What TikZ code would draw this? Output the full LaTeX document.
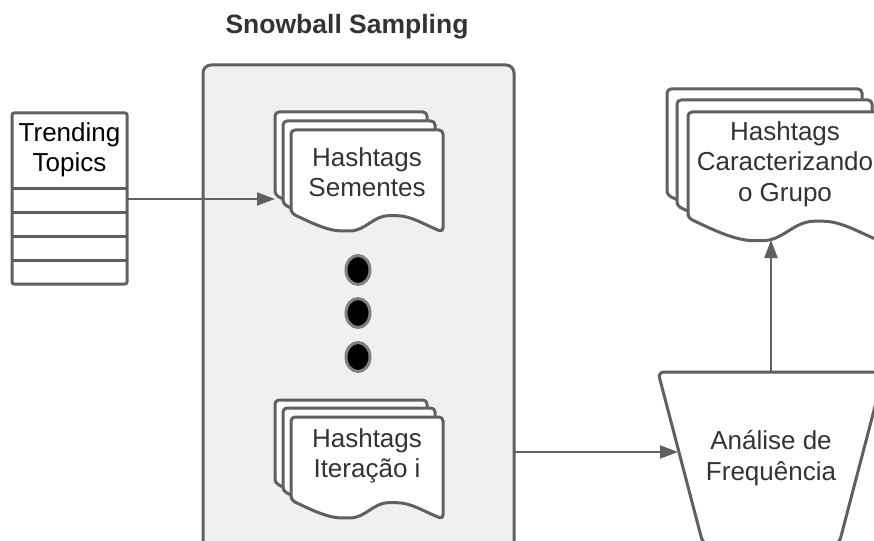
\documentclass[tikz,border=0pt]{standalone}
\usepackage{fontspec}
\setmainfont{Liberation Sans}
\usetikzlibrary{arrows.meta,shapes.geometric}
\definecolor{linegray}{RGB}{96,96,96}
\definecolor{boxfill}{RGB}{240,240,240}
\definecolor{txtgray}{RGB}{51,51,51}
\newcommand\docpath[4]{%
 (#1,#2+0.815*#4) -- (#1,#2) -- (#1+#3,#2) -- (#1+#3,#2+#4)
 .. controls (#1+0.88*#3,#2+0.93*#4) and (#1+0.79*#3,#2+0.84*#4) .. (#1+0.67*#3,#2+0.84*#4)
 .. controls (#1+0.54*#3,#2+0.84*#4) and (#1+0.49*#3,#2+0.99*#4) .. (#1+0.36*#3,#2+0.99*#4)
 .. controls (#1+0.24*#3,#2+0.99*#4) and (#1+0.12*#3,#2+0.90*#4) .. cycle}
\tikzset{
  shape line/.style={draw=linegray, line width=3pt, line join=round, rounded corners=4pt},
  sheet/.style={shape line, fill=white},
  conn/.style={draw=linegray, line width=2pt, -{Triangle[length=18pt,width=13pt]}},
  label/.style={font=\fontsize{26}{30.5}\selectfont, text=txtgray, align=center, inner sep=0pt},
  dotnode/.style={ellipse, draw=linegray!80, line width=3pt, fill=black, minimum width=24pt, minimum height=29pt, inner sep=0pt},
}
\begin{document}
\begin{tikzpicture}[x=1pt,y=-1pt]
\useasboundingbox (0,0) rectangle (874,540);
\clip (0,0) rectangle (874,540);
\fill[white] (0,0) rectangle (874,540);
% title
\node[label, font=\fontsize{26.5}{30}\selectfont\bfseries] (title) at (347,27) {Snowball Sampling};
% container
\draw[shape line, rounded corners=8pt, fill=boxfill] (203,65) rectangle (514,600);
\coordinate (contR) at (514,452);
% trending topics table
\draw[shape line, rounded corners=2pt, fill=white] (12,113) rectangle (127,284);
\foreach \yy in {188,212,236,260}{\draw[draw=linegray, line width=3pt] (12,\yy) -- (127,\yy);}
\node[label, text=black] (tt) at (69.5,150) {Trending\\Topics};
\coordinate (ttR) at (127,199);
% Hashtags Sementes
\draw[sheet] \docpath{275}{112}{152}{102};
\draw[sheet] \docpath{283}{121}{152}{102};
\draw[sheet] \docpath{291}{130}{152}{102};
\node[label] (sem) at (367,172) {Hashtags\\Sementes};
\coordinate (semL) at (275,199);
% dots
\node[dotnode] (d1) at (358,270) {};
\node[dotnode] (d2) at (358,313) {};
\node[dotnode] (d3) at (358,357) {};
% Hashtags Iteracao i
\draw[sheet] \docpath{275}{400}{152}{102};
\draw[sheet] \docpath{283}{408}{152}{102};
\draw[sheet] \docpath{291}{417}{152}{102};
\node[label] (it) at (367,456) {Hashtags\\Iteração i};
% Hashtags Caracterizando
\draw[sheet] \docpath{667}{89}{195}{130};
\draw[sheet] \docpath{677}{100}{195}{130};
\draw[sheet] \docpath{688}{112}{195}{130};
\node[label] (car) at (785,164) {Hashtags\\Caracterizando\\o Grupo};
\coordinate (carB) at (771,240);
% trapezoid
\draw[shape line, rounded corners=6pt, fill=white] (658,372) -- (884,372) -- (839,544) -- (703,544) -- cycle;
\node[label] (fa) at (771,458) {Análise de\\Frequência};
\coordinate (faL) at (678,452);
\coordinate (faT) at (771,372);
% connectors
\draw[conn] (ttR) -- (semL);
\draw[conn] (contR) -- (faL);
\draw[conn] (faT) -- (carB);
\end{tikzpicture}
\end{document}
